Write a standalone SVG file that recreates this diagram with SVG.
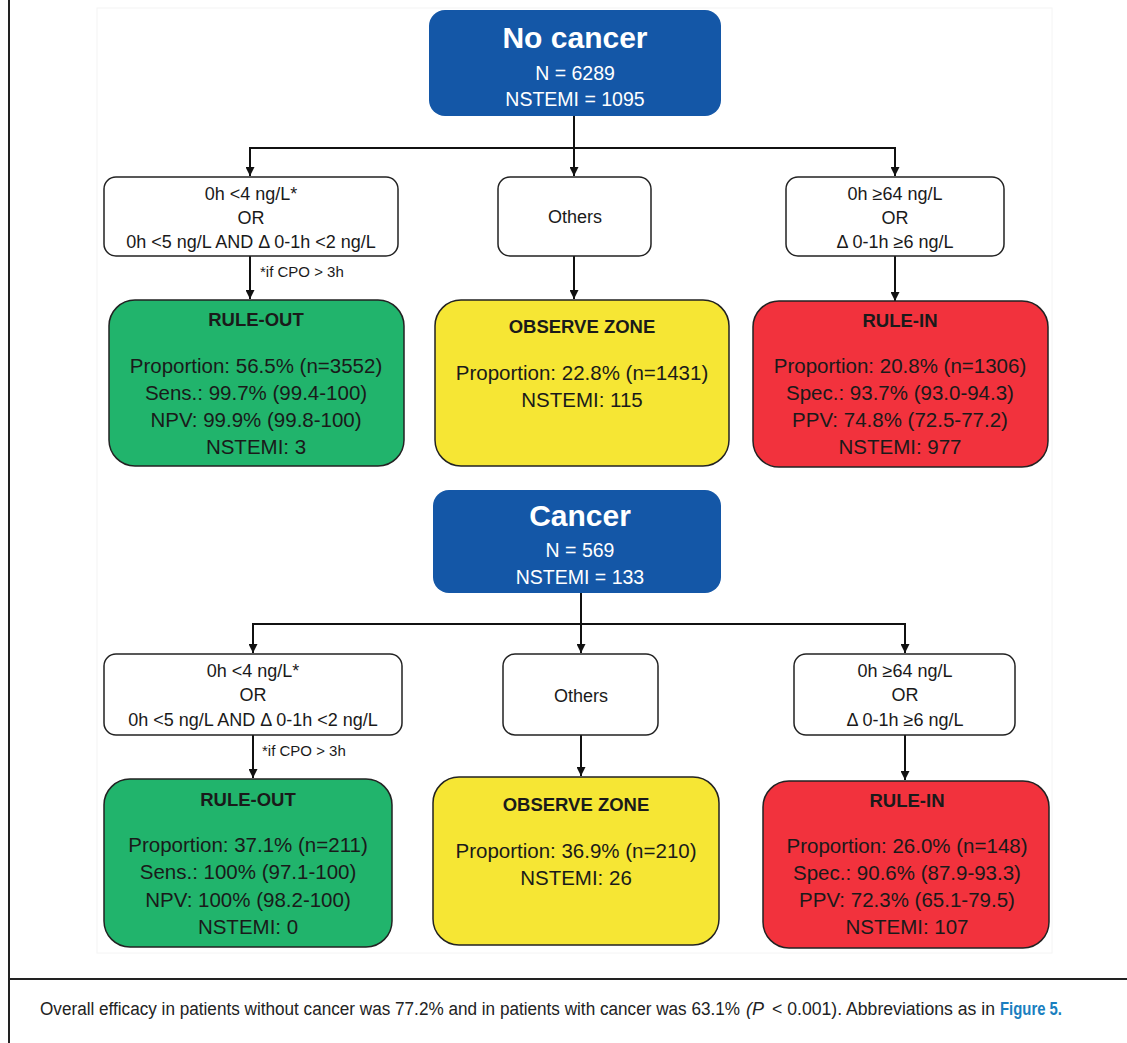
<svg xmlns="http://www.w3.org/2000/svg" width="1127" height="1043" viewBox="0 0 1127 1043">
<defs>
<style>
text{font-family:"Liberation Sans",Arial,sans-serif;fill:#1a1a1a;text-anchor:middle}
.hdr{fill:#1457a7}
.crit{fill:#fff;stroke:#222;stroke-width:1.5}
.res{stroke:#222;stroke-width:1.5}
.g{fill:#21b46c}.y{fill:#f6e634}.r{fill:#f2323d}
.t1{font-size:30px;font-weight:bold;fill:#fff}
.t2{font-size:19.5px;fill:#fff}
.c{font-size:18px}
.s{font-size:15px;text-anchor:start}
.h{font-size:18.5px;font-weight:bold}
.b{font-size:20.5px}
.cap{font-size:18px;text-anchor:start;fill:#222}
.con{stroke:#111;stroke-width:2;fill:none}
</style>
<marker id="ah" viewBox="0 0 10 10" refX="10" refY="5" markerWidth="4.5" markerHeight="4.5" orient="auto" markerUnits="strokeWidth">
<path d="M0,0 L10,5 L0,10 z" fill="#111"/>
</marker>
</defs>
<rect width="1127" height="1043" fill="#fff"/>
<rect x="97" y="8" width="955" height="945" fill="none" stroke="#f4f4f4" stroke-width="1"/>
<g id="frame">
<line x1="9" y1="0" x2="9" y2="1043" stroke="#222" stroke-width="2"/>
<line x1="9" y1="979" x2="1127" y2="979" stroke="#222" stroke-width="2"/>
</g>
<g id="connectors">
<path class="con" d="M574,116 V176" marker-end="url(#ah)"/>
<path class="con" d="M250,176 V148 H895 V176" marker-end="url(#ah)"/>
<path class="con" d="M250,148 V176" marker-end="url(#ah)"/>
<path class="con" d="M250,256 V299" marker-end="url(#ah)"/>
<path class="con" d="M574,256 V299" marker-end="url(#ah)"/>
<path class="con" d="M895,256 V301" marker-end="url(#ah)"/>
<path class="con" d="M581,593 V653" marker-end="url(#ah)"/>
<path class="con" d="M253,653 V624 H905 V653" marker-end="url(#ah)"/>
<path class="con" d="M253,624 V653" marker-end="url(#ah)"/>
<path class="con" d="M253,735 V778" marker-end="url(#ah)"/>
<path class="con" d="M581,735 V776" marker-end="url(#ah)"/>
<path class="con" d="M905,735 V780" marker-end="url(#ah)"/>
<text class="s" x="260" y="277">*if CPO &gt; 3h</text>
<text class="s" x="262" y="756">*if CPO &gt; 3h</text>
</g>
<g id="no-cancer">
<rect class="hdr" x="429" y="10" width="292" height="106" rx="16"/>
<text class="t1" x="575" y="48">No cancer</text>
<text class="t2" x="575" y="80">N = 6289</text>
<text class="t2" x="575" y="106">NSTEMI = 1095</text>
</g>
<g id="nc-crit-out">
<rect class="crit" x="104" y="177" width="294" height="79" rx="12"/>
<text class="c" x="251" y="200">0h &lt;4 ng/L*</text>
<text class="c" x="251" y="224">OR</text>
<text class="c" x="251" y="248">0h &lt;5 ng/L AND Δ 0-1h &lt;2 ng/L</text>
</g>
<g id="nc-crit-others">
<rect class="crit" x="498" y="177" width="153" height="79" rx="12"/>
<text class="c" x="575" y="223">Others</text>
</g>
<g id="nc-crit-in">
<rect class="crit" x="786" y="177" width="218" height="79" rx="12"/>
<text class="c" x="895" y="200">0h ≥64 ng/L</text>
<text class="c" x="895" y="224">OR</text>
<text class="c" x="895" y="248">Δ 0-1h ≥6 ng/L</text>
</g>
<g id="nc-rule-out">
<rect class="res g" x="109" y="300" width="295" height="166" rx="26"/>
<text class="h" x="256" y="326">RULE-OUT</text>
<text class="b" x="256" y="373">Proportion: 56.5% (n=3552)</text>
<text class="b" x="256" y="400">Sens.: 99.7% (99.4-100)</text>
<text class="b" x="256" y="427">NPV: 99.9% (99.8-100)</text>
<text class="b" x="256" y="454">NSTEMI: 3</text>
</g>
<g id="nc-observe">
<rect class="res y" x="435" y="300" width="294" height="166" rx="26"/>
<text class="h" x="582" y="333">OBSERVE ZONE</text>
<text class="b" x="582" y="380">Proportion: 22.8% (n=1431)</text>
<text class="b" x="582" y="407">NSTEMI: 115</text>
</g>
<g id="nc-rule-in">
<rect class="res r" x="753" y="301" width="295" height="166" rx="26"/>
<text class="h" x="900" y="327">RULE-IN</text>
<text class="b" x="900" y="373">Proportion: 20.8% (n=1306)</text>
<text class="b" x="900" y="400">Spec.: 93.7% (93.0-94.3)</text>
<text class="b" x="900" y="427">PPV: 74.8% (72.5-77.2)</text>
<text class="b" x="900" y="454">NSTEMI: 977</text>
</g>
<g id="cancer">
<rect class="hdr" x="433" y="490" width="288" height="103" rx="16"/>
<text class="t1" x="580" y="526">Cancer</text>
<text class="t2" x="580" y="557">N = 569</text>
<text class="t2" x="580" y="584">NSTEMI = 133</text>
</g>
<g id="c-crit-out">
<rect class="crit" x="104" y="654" width="298" height="81" rx="12"/>
<text class="c" x="253" y="677">0h &lt;4 ng/L*</text>
<text class="c" x="253" y="701">OR</text>
<text class="c" x="253" y="726">0h &lt;5 ng/L AND Δ 0-1h &lt;2 ng/L</text>
</g>
<g id="c-crit-others">
<rect class="crit" x="503" y="654" width="155" height="81" rx="12"/>
<text class="c" x="581" y="702">Others</text>
</g>
<g id="c-crit-in">
<rect class="crit" x="794" y="654" width="221" height="81" rx="12"/>
<text class="c" x="905" y="677">0h ≥64 ng/L</text>
<text class="c" x="905" y="701">OR</text>
<text class="c" x="905" y="726">Δ 0-1h ≥6 ng/L</text>
</g>
<g id="c-rule-out">
<rect class="res g" x="104" y="779" width="288" height="168" rx="26"/>
<text class="h" x="248" y="806">RULE-OUT</text>
<text class="b" x="248" y="852">Proportion: 37.1% (n=211)</text>
<text class="b" x="248" y="879">Sens.: 100% (97.1-100)</text>
<text class="b" x="248" y="907">NPV: 100% (98.2-100)</text>
<text class="b" x="248" y="934">NSTEMI: 0</text>
</g>
<g id="c-observe">
<rect class="res y" x="433" y="777" width="286" height="168" rx="26"/>
<text class="h" x="576" y="811">OBSERVE ZONE</text>
<text class="b" x="576" y="858">Proportion: 36.9% (n=210)</text>
<text class="b" x="576" y="885">NSTEMI: 26</text>
</g>
<g id="c-rule-in">
<rect class="res r" x="763" y="781" width="286" height="167" rx="26"/>
<text class="h" x="907" y="807">RULE-IN</text>
<text class="b" x="907" y="853">Proportion: 26.0% (n=148)</text>
<text class="b" x="907" y="880">Spec.: 90.6% (87.9-93.3)</text>
<text class="b" x="907" y="907">PPV: 72.3% (65.1-79.5)</text>
<text class="b" x="907" y="934">NSTEMI: 107</text>
</g>
<g id="caption">
<text class="cap" x="40" y="1015" textLength="700" lengthAdjust="spacingAndGlyphs">Overall efficacy in patients without cancer was 77.2% and in patients with cancer was 63.1%</text>
<text class="cap" x="746" y="1015" font-style="italic">(P</text>
<text class="cap" x="772" y="1015" textLength="223" lengthAdjust="spacingAndGlyphs">&lt; 0.001). Abbreviations as in</text>
<text class="cap" x="1000" y="1015" font-weight="bold" style="fill:#1a7fc0" textLength="62" lengthAdjust="spacingAndGlyphs">Figure 5.</text>
</g>
</svg>
